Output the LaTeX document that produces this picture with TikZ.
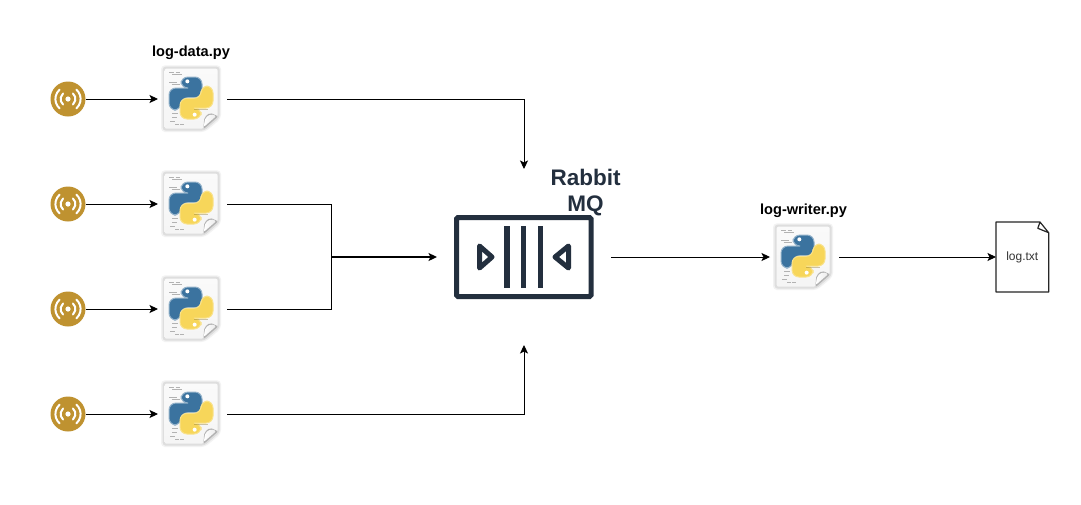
\documentclass[tikz,border=0pt]{standalone}
\usepackage{fontspec}
\setmainfont{Liberation Sans}
\usetikzlibrary{arrows.meta,calc}
\definecolor{gold}{HTML}{BF9230}
\definecolor{mqdark}{HTML}{232F3E}
\definecolor{pyblue}{HTML}{3B739F}
\definecolor{pyyellow}{HTML}{F7D65A}
\newcommand{\snakeshape}{(112,78) -- (42,78) -- (42,144) -- (78,144) -- (78,107) -- (141,107) -- (141,45) -- (78,45) -- (78,78) -- cycle}
\tikzset{
  conn/.style={line width=0.9pt,draw=black},
  arr/.style={conn,-{Stealth[length=8.5pt,width=8pt,inset=2pt]}},
  sensor/.style={circle,fill=gold,minimum size=35pt,inner sep=0pt,outer sep=0pt},
  pyslot/.style={minimum width=69pt,minimum height=64pt,inner sep=0pt,outer sep=0pt},
  mqslot/.style={minimum width=174pt,minimum height=176pt,inner sep=0pt,outer sep=0pt},
  docslot/.style={minimum width=52.7pt,minimum height=70pt,inner sep=0pt,outer sep=0pt,font=\fontsize{12}{14}\selectfont,text=black!80},
  caption/.style={font=\bfseries\fontsize{14.6}{17}\selectfont,text=black},
  mqtitle/.style={font=\bfseries\fontsize{22.5}{26}\selectfont,text=mqdark,align=center},
  mqline/.style={draw=mqdark,line width=5pt},
  wave/.style={draw=white,line width=2pt,line cap=round},
  code/.style={draw=black!30,line width=0.9pt},
  pyicon/.pic={
    \begin{scope}[shift={(-37.5,-37)},scale=1/3]
      % soft edge and page
      \fill[black!5,rounded corners=4pt] (18,10) -- (198,10) -- (198,170) -- (150,210) -- (18,210) -- cycle;
      \fill[black!13,rounded corners=3pt] (23,14) -- (194,14) -- (194,167) -- (148,206) -- (23,206) -- cycle;
      \shade[top color=black!2,bottom color=black!4,rounded corners=2pt] (29,20) -- (188,20) -- (188,163) -- (145,200) -- (29,200) -- cycle;
      % code lines
      \draw[code] (42,30) -- (58,30) (62,30) -- (75,30);
      \draw[code] (52,38) -- (80,38);
      \draw[code] (42,60) -- (65,60);
      \draw[code] (50,68) -- (76,68);
      \draw[code] (52,155) -- (70,155);
      \draw[code] (52,165) -- (66,165);
      \draw[code] (45,178) -- (60,178);
      \draw[code] (60,188) -- (72,188) (76,188) -- (86,188);
      % fold
      \fill[black!30,rounded corners=2pt] (190,163) -- (145,202) -- (148,166) -- (165,152) -- cycle;
      \shade[left color=white,right color=black!8,rounded corners=2pt] (184,162) -- (146,195) -- (151,167) -- (168,156) -- cycle;
      % blue snake
      \path[fill=pyblue,draw=pyblue!55!white,line width=1pt,rounded corners=7pt] \snakeshape;
      \fill[white] (97,58) circle (6);
      % yellow snake
      \begin{scope}[shift={(216,216)},xscale=-1,yscale=-1]
        \path[fill=pyyellow,draw=pyyellow!70!white,line width=1pt,rounded corners=7pt] \snakeshape;
        \fill[white] (97,58) circle (6);
      \end{scope}
      \fill[pyyellow!55!black,opacity=.4] (118,141) rectangle (160,145);
    \end{scope}
  },
  sensorwaves/.pic={
    \fill[white] (0,0) circle (2.6);
    \draw[wave] (-48:7.4) arc (-48:48:7.4);
    \draw[wave] (132:7.4) arc (132:228:7.4);
    \draw[wave] (-48:12.6) arc (-48:48:12.6);
    \draw[wave] (132:12.6) arc (132:228:12.6);
  },
}
\begin{document}
\begin{tikzpicture}[x=1pt,y=-1pt]
\useasboundingbox (0,0) rectangle (1081,504);
\fill[white] (0,0) rectangle (1081,504);

% sensors
\foreach \n/\yy in {1/99,2/204,3/309,4/414}{
  \node[sensor] (s\n) at (68,\yy) {};
  \pic at (s\n.center) {sensorwaves};
  \node[pyslot] (p\n) at (192.5,\yy) {};
  \pic at (p\n.center) {pyicon};
}
\node[caption] (datalabel) at (191,53) {log-data.py};

% RabbitMQ
\node[mqslot] (mq) at (524,257) {};
\draw[mqline,rounded corners=1.5pt] (456.5,217.5) rectangle (591,296.5);
\draw[mqline,line join=round] (479.5,246) -- (492,257) -- (479.5,268) -- cycle;
\draw[mqline,line join=round] (568.5,246) -- (555,257) -- (568.5,268) -- cycle;
\foreach \xx in {506.8,523.6,540.4}{
  \fill[mqdark] (\xx-2.7,226) rectangle (\xx+2.7,288);
}
\node[mqtitle] (mqlabel) at (585.5,193) {Rabbit\\MQ};

% log writer
\node[pyslot] (w) at (804.5,257) {};
\pic at (w.center) {pyicon};
\node[caption] (writerlabel) at (803.5,211) {log-writer.py};

% log file
\node[docslot] (log) at (1022.3,257) {\raisebox{-1pt}{log.txt}};
\draw[line width=1.2pt,draw=black!85,line join=round]
  (log.north west) -- (1040,222) -- (1037.8,228.3) -- (log.north east |- 0,232.7) -- (log.south east) -- (log.south west) -- cycle
  (1040,222) -- (log.north east |- 0,232.7);

% connectors
\foreach \n in {1,2,3,4}{
  \draw[arr] (s\n.east) -- (p\n.west);
}
\coordinate (join) at (331,257);
\draw[arr] (p1.east) -| (mq.north);
\draw[conn] (p2.east) -| (join);
\draw[conn] (p3.east) -| (join);
\draw[arr,line width=1.4pt] (join) -- (mq.west);
\draw[arr] (p4.east) -| (mq.south);
\draw[arr] (mq.east) -- (w.west);
\draw[arr] (w.east) -- (log.west);
\end{tikzpicture}
\end{document}
